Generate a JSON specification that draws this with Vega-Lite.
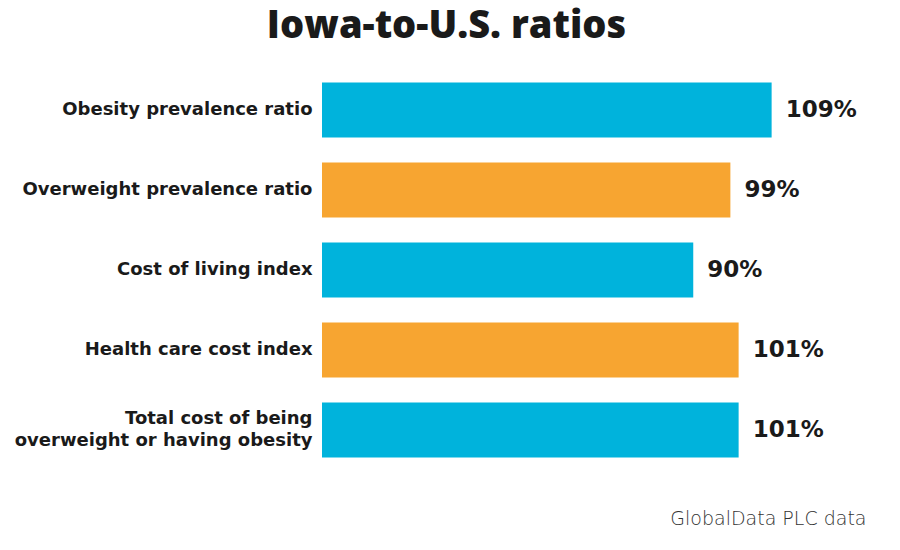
{
  "$schema": "https://vega.github.io/schema/vega-lite/v6.json",
  "autosize": {"type": "none"},
  "width": 495,
  "height": 400,
  "padding": {"left": 322, "top": 70, "right": 83, "bottom": 80},
  "background": "white",
  "title": {
    "text": "Iowa-to-U.S. ratios",
    "font": "Open Sans",
    "fontSize": 38,
    "fontWeight": 800,
    "color": "#1a1a1a",
    "anchor": "middle",
    "frame": "group",
    "dx": -123,
    "offset": 24
  },
  "config": {"view": {"stroke": null}},
  "data": {
    "values": [
      {"measure": "Obesity prevalence ratio", "ratio": 1.09, "group": "a"},
      {"measure": "Overweight prevalence ratio", "ratio": 0.99, "group": "b"},
      {"measure": "Cost of living index", "ratio": 0.90, "group": "a"},
      {"measure": "Health care cost index", "ratio": 1.01, "group": "b"},
      {"measure": "Total cost of being \noverweight or having obesity", "ratio": 1.01, "group": "a"}
    ]
  },
  "encoding": {
    "y": {
      "field": "measure",
      "type": "nominal",
      "sort": null,
      "scale": {"paddingInner": 0.3125, "paddingOuter": 0.15625},
      "axis": {
        "title": null,
        "domain": false,
        "ticks": false,
        "labelPadding": 10,
        "labelFont": "DejaVu Sans",
        "labelFontWeight": "bold",
        "labelFontSize": 18,
        "labelColor": "#1a1a1a",
        "labelLimit": 400,
        "labelLineHeight": 22,
        "labelOffset": {"condition": {"test": "indexof(datum.value, 'Total') >= 0", "value": -11}, "value": 0},
        "labelExpr": "split(datum.label, '\\n')"
      }
    },
    "x": {
      "field": "ratio",
      "type": "quantitative",
      "scale": {"domain": [0, 1.2], "nice": false},
      "axis": {
        "labels": false,
        "ticks": false,
        "domain": false,
        "grid": false,
        "title": "GlobalData PLC data",
        "titleFont": "DejaVu Sans",
        "titleFontWeight": 300,
        "titleFontSize": 19,
        "titleColor": "#333333",
        "titleAnchor": "end",
        "titleAlign": "right",
        "titleBaseline": "alphabetic",
        "titleX": 544,
        "titleY": 54
      }
    }
  },
  "layer": [
    {
      "mark": {"type": "bar"},
      "encoding": {
        "color": {
          "field": "group",
          "type": "nominal",
          "scale": {"domain": ["a", "b"], "range": ["#00b3dc", "#f7a531"]},
          "legend": null
        }
      }
    },
    {
      "mark": {
        "type": "text",
        "align": "left",
        "baseline": "middle",
        "dx": 14,
        "font": "DejaVu Sans",
        "fontWeight": "bold",
        "fontSize": 23,
        "color": "#1a1a1a"
      },
      "encoding": {
        "text": {"field": "ratio", "type": "quantitative", "format": ".0%"}
      }
    }
  ]
}
